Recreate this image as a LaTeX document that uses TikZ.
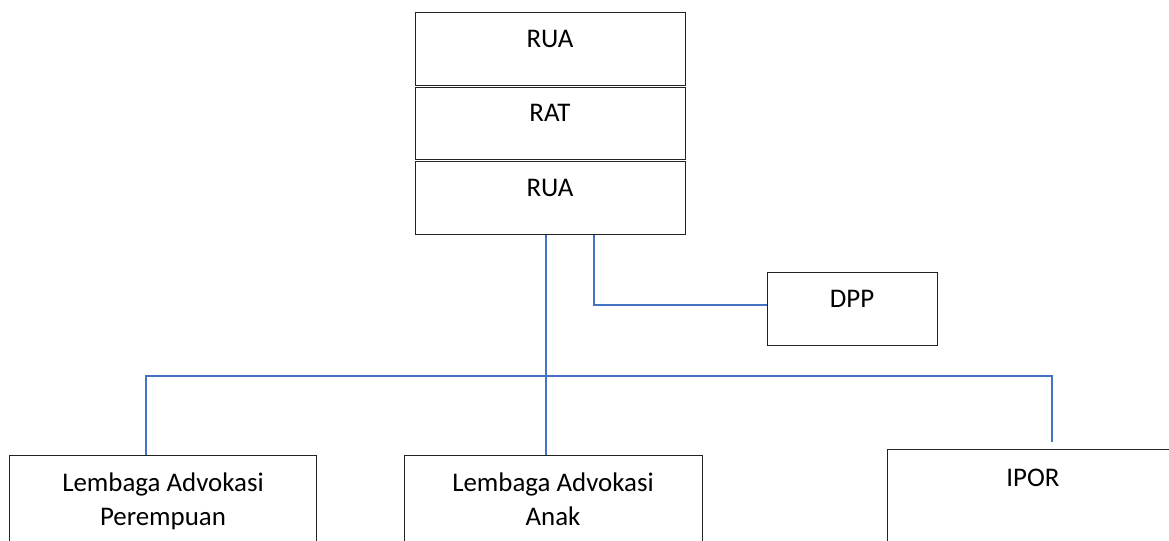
\documentclass[tikz,border=0pt]{standalone}
\usepackage{fontspec}
\setmainfont{Carlito}
\definecolor{linkblue}{HTML}{4472C4}
\definecolor{boxline}{HTML}{222222}
\tikzset{
  orgbox/.style={draw=boxline, line width=1.3bp, fill=white, inner sep=0pt, anchor=north west, rectangle},
  txt/.style={font=\fontsize{27}{34}\selectfont, anchor=base, inner sep=0pt, align=center},
  link/.style={draw=linkblue, line width=1.6bp}
}
\begin{document}
\begin{tikzpicture}[x=1bp,y=-1bp]
\useasboundingbox (0,0) rectangle (1169,541);
\clip (0,0) rectangle (1169,541);
% top stack
\node[orgbox, minimum width=270bp, minimum height=73bp] (rua1) at (415,12) {};
\node[orgbox, minimum width=270bp, minimum height=72bp] (rat) at (415,87) {};
\node[orgbox, minimum width=270bp, minimum height=73bp] (rua2) at (415,161) {};
\node[txt] (trua1) at (550,47.5) {RUA};
\node[txt] (trat) at (550,122) {RAT};
\node[txt] (trua2) at (550,197) {RUA};
% DPP
\node[orgbox, minimum width=170bp, minimum height=73bp] (dpp) at (767,272) {};
\node[txt] (tdpp) at (852,308) {DPP};
% bottom boxes
\node[orgbox, minimum width=307bp, minimum height=120bp] (lap) at (9,455) {};
\node[orgbox, minimum width=298bp, minimum height=120bp] (laa) at (404,455) {};
\node[orgbox, minimum width=292bp, minimum height=120bp] (ipor) at (887,449) {};
\node[txt] (tlap) at (163,491.5) {Lembaga Advokasi};
\node[txt] (tlap2) at (163,525.5) {Perempuan};
\node[txt] (tlaa) at (553,491.5) {Lembaga Advokasi};
\node[txt] (tlaa2) at (553,525.5) {Anak};
\node[txt] (tipor) at (1033,486) {IPOR};
% connectors
\coordinate (bus) at (0,376);
\coordinate (ipend) at (1052,442);
\coordinate (dppin) at (767,305);
\draw[link] (rua2.south -| 546,0) -- (laa.north -| 546,0);
\draw[link] (rua2.south -| 594,0) |- (dppin);
\draw[link] (lap.north -| 146,0) -- (bus -| 146,0) -- (bus -| 1052,0) -- (ipend);
\end{tikzpicture}
\end{document}
